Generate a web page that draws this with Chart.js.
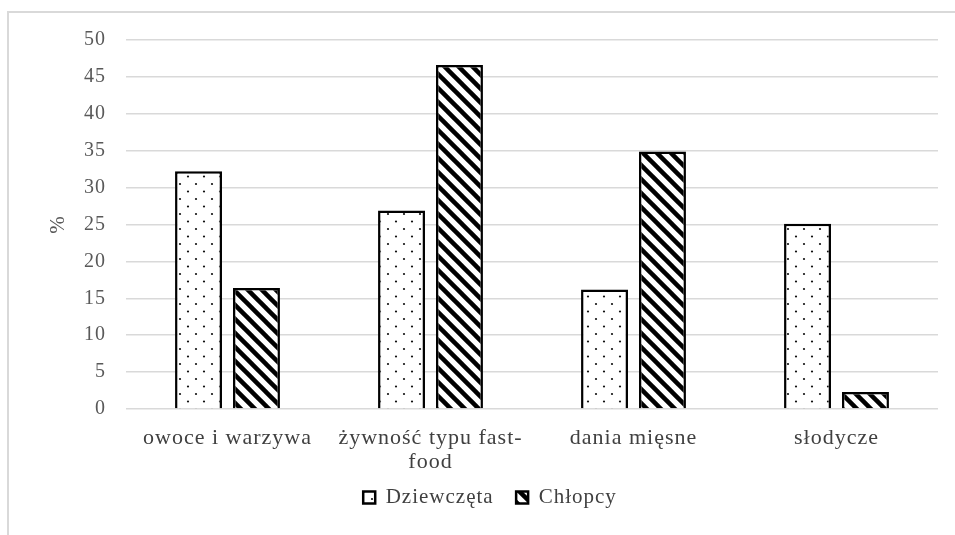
<!DOCTYPE html>
<html>
<head>
<meta charset="utf-8">
<script src="https://cdn.jsdelivr.net/npm/chart.js@4/dist/chart.umd.min.js"></script>
<style>
  html, body { margin: 0; padding: 0; background: #fff; }
  #wrap { position: relative; width: 955px; height: 535px; }
  #frame { position: absolute; left: 7px; top: 11px; right: -5px; bottom: -5px;
           border-top: 2px solid #d9d9d9; border-left: 2px solid #d9d9d9; pointer-events: none; }
  canvas { position: absolute; left: 0; top: 0; }
</style>
</head>
<body>
<div id="wrap">
  <canvas id="c" width="955" height="535"></canvas>
  <div id="frame"></div>
</div>
<script>
const categories = [["owoce i warzywa"], ["żywność typu fast-", "food"], ["dania mięsne"], ["słodycze"]];
const seriesNames = ["Dziewczęta", "Chłopcy"];
const girls = [32.2, 26.9, 16.2, 25.1];
const boys = [16.4, 46.6, 34.9, 2.3];
const yTicks = [0, 5, 10, 15, 20, 25, 30, 35, 40, 45, 50];

function dotPattern() {
  const t = document.createElement('canvas');
  t.width = 16; t.height = 15;
  const g = t.getContext('2d');
  g.fillStyle = '#fff'; g.fillRect(0, 0, 16, 15);
  g.fillStyle = '#111';
  g.beginPath(); g.arc(4, 4, 1.1, 0, Math.PI * 2); g.fill();
  g.beginPath(); g.arc(12, 11.5, 1.1, 0, Math.PI * 2); g.fill();
  return g.createPattern(t, 'repeat');
}
function stripePattern() {
  const s = 14;
  const t = document.createElement('canvas');
  t.width = s; t.height = s;
  const g = t.getContext('2d');
  g.fillStyle = '#fff'; g.fillRect(0, 0, s, s);
  g.strokeStyle = '#000'; g.lineWidth = 4.5;
  for (let k = -1; k <= 1; k++) {
    g.beginPath(); g.moveTo(k * s - 2, -2); g.lineTo(k * s + s + 2, s + 2); g.stroke();
  }
  return g.createPattern(t, 'repeat');
}

const spacing = {
  id: 'spacing',
  beforeUpdate(chart) { chart.ctx.letterSpacing = '1px'; },
  beforeDraw(chart) { chart.ctx.letterSpacing = '1px'; }
};

const serif = '"Liberation Serif", "Times New Roman", serif';
const ctx = document.getElementById('c').getContext('2d');
new Chart(ctx, {
  type: 'bar',
  plugins: [spacing],
  data: {
    labels: categories,
    datasets: [
      { label: seriesNames[0], data: girls, backgroundColor: dotPattern(), borderColor: '#000', borderWidth: 2.5 },
      { label: seriesNames[1], data: boys, backgroundColor: stripePattern(), borderColor: '#000', borderWidth: 2.5 }
    ]
  },
  options: {
    responsive: false,
    animation: false,
    devicePixelRatio: 1,
    layout: { padding: { left: 42, right: 17, top: 40, bottom: 17 } },
    datasets: { bar: { categoryPercentage: 0.571, barPercentage: 0.81 } },
    plugins: {
      tooltip: { enabled: false },
      legend: {
        position: 'bottom',
        labels: {
          boxWidth: 12, boxHeight: 12, padding: 10,
          color: '#404040',
          font: { family: serif, size: 21 },
          generateLabels(chart) {
            const items = Chart.defaults.plugins.legend.labels.generateLabels(chart);
            items.forEach((it, i) => { if (i < items.length - 1) it.text = it.text + '  '; });
            return items;
          }
        }
      }
    },
    scales: {
      x: {
        grid: { display: false },
        border: { display: false },
        ticks: {
          color: '#404040', padding: 9, maxRotation: 0, autoSkip: false,
          font: { family: serif, size: 22, lineHeight: 1.1 }
        },
        afterFit: s => { s.height = 68; }
      },
      y: {
        min: 0, max: 50,
        afterBuildTicks: s => { s.ticks = yTicks.map(v => ({ value: v })); },
        grid: { color: '#d9d9d9', lineWidth: 1.5, drawTicks: false },
        border: { display: false },
        ticks: {
          color: '#595959', padding: 20,
          font: { family: serif, size: 20 }
        },
        title: {
          display: true, text: '%', color: '#595959', padding: { top: 4, bottom: 4 },
          font: { family: serif, size: 21 }
        },
        afterFit: s => { s.width = 84; }
      }
    }
  }
});
</script>
</body>
</html>
